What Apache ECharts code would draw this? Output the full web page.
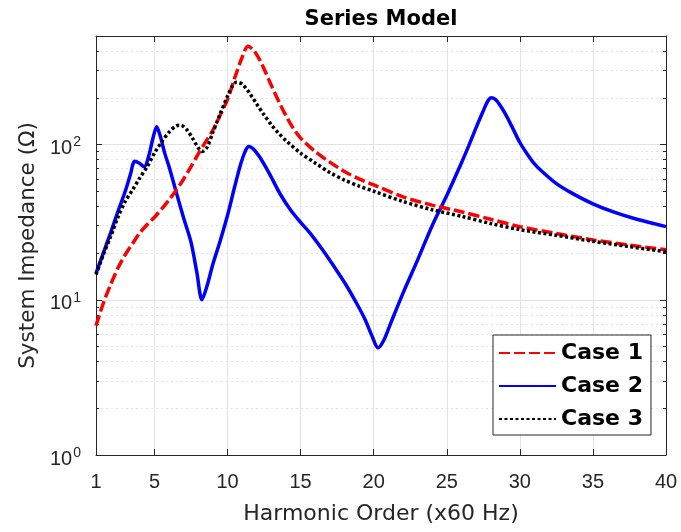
<!DOCTYPE html>
<html>
<head>
<meta charset="utf-8">
<script src="https://cdn.jsdelivr.net/npm/echarts@6/dist/echarts.min.js"></script>
<style>
html,body{margin:0;padding:0;background:#fff;}
#chart{width:681px;height:532px;}
</style>
</head>
<body>
<div id="chart"></div>
<script>
// ---- data ----
var titleText = 'Series Model';
var xName = 'Harmonic Order (x60 Hz)';
var yName = 'System Impedance (\u03A9)';
var seriesNames = ['Case 1', 'Case 2', 'Case 3'];

var xTicks = [1, 5, 10, 15, 20, 25, 30, 35, 40];
var yMajorTicks = [1, 10, 100];
var yMinorTicks = [2, 3, 4, 5, 6, 7, 8, 9, 20, 30, 40, 50, 60, 70, 80, 90, 200, 300, 400];

var case1X = [1, 1.5, 2, 2.5, 3, 3.5, 4, 4.5, 5, 5.5, 6, 6.5, 7, 7.5, 8, 8.5, 9, 9.5, 10, 10.5, 11, 11.4, 11.8, 12.2, 12.6, 13, 13.5, 14, 14.5, 15, 16, 17, 18, 19, 20, 22, 24, 26, 28, 30, 32.5, 35, 37.5, 40];
var case1Y = [6.8, 9.5, 12.5, 16, 19.5, 23, 27, 30.5, 34, 38.5, 44, 51, 60, 72, 87, 104, 124, 155, 195, 270, 365, 430, 403, 351, 292, 240, 190, 153, 127, 110, 90, 77, 67, 60, 55, 46, 40.7, 36.9, 33, 29.6, 26.7, 24.3, 22.5, 21];

var case2X = [1, 1.5, 2, 2.5, 3, 3.35, 3.65, 3.95, 4.3, 4.6, 4.9, 5.15, 5.4, 5.7, 6, 6.5, 7, 7.5, 7.9, 8.25, 8.6, 9, 9.5, 10, 10.5, 10.9, 11.2, 11.45, 11.75, 12.2, 12.9, 13.6, 14.3, 15, 15.7, 16.5, 17.3, 18.1, 18.8, 19.4, 19.9, 20.3, 20.7, 21.2, 22, 23, 24, 25, 26, 26.5, 27, 27.5, 27.8, 28.05, 28.3, 28.6, 29, 29.5, 30, 30.5, 31, 31.6, 32.5, 33.5, 35, 36.5, 38, 40];
var case2Y = [14.8, 20, 27, 37, 50, 64, 78, 76, 72, 84, 110, 130, 113, 88, 72, 49, 33.5, 23.5, 15, 10, 12.3, 17, 24, 35, 54, 75, 90, 97, 94, 83, 64, 48, 38, 31.5, 26.5, 21, 16.3, 12.5, 9.6, 7.5, 5.8, 4.9, 5.5, 7.2, 11, 18, 30, 47, 76, 98, 128, 165, 190, 200, 196, 182, 158, 128, 103, 87, 75, 66, 56, 49, 41.5, 36.5, 33, 29.6];

var case3X = [1, 1.5, 2, 2.5, 3, 3.5, 4, 4.5, 5, 5.5, 6, 6.5, 6.8, 7.2, 7.6, 8, 8.25, 8.6, 9, 9.5, 10, 10.3, 10.6, 11, 11.5, 12, 12.5, 13, 13.5, 14, 15, 16, 17, 18, 19, 20, 22, 24, 26, 28, 30, 32.5, 35, 37.5, 40];
var case3Y = [14.5, 19.5, 25.5, 34, 43, 51, 61, 72, 88, 104, 120, 132, 133, 125, 110, 95, 90, 96, 120, 158, 205, 235, 252, 245, 215, 182, 155, 134, 118, 106, 88, 76, 66, 59, 54, 50, 43, 38, 34.5, 31, 28.3, 26, 23.8, 22, 20.4];

function pairs(xs, ys) {
  var out = [];
  for (var i = 0; i < xs.length; i++) out.push([xs[i], ys[i]]);
  return out;
}

var axisColor = '#262626';
var font = 'Liberation Sans, Arial, sans-serif';
var wideFont = 'DejaVu Sans, sans-serif';

var chart = echarts.init(document.getElementById('chart'), null, {renderer: 'canvas'});

function logAxis(pos, ticks, len, showLine, showLabel, splitStyle) {
  return {
    type: 'log', logBase: 10, min: 1, max: 500, position: pos,
    axisLine: {show: showLine, onZero: false, lineStyle: {color: axisColor, width: 1}},
    axisTick: {show: true, inside: true, length: len, customValues: ticks, lineStyle: {color: axisColor, width: 1}},
    axisLabel: showLabel ? {
      show: true, inside: false, customValues: ticks, margin: 15,
      formatter: function (v) { return '{b|10}{s|' + Math.round(Math.log10(v)) + '}'; },
      rich: {
        b: {fontSize: 20, fontFamily: font, color: axisColor, lineHeight: 20, padding: [8, 0, 0, 0]},
        s: {fontSize: 14, fontFamily: font, color: axisColor, lineHeight: 14, verticalAlign: 'top', padding: [1, 0, 0, 1]}
      }
    } : {show: false},
    splitLine: splitStyle ? {show: true, lineStyle: splitStyle} : {show: false},
    minorTick: {show: false}
  };
}

var option = {
  backgroundColor: '#ffffff',
  animation: false,
  graphic: [{
    type: 'text', x: 381, y: 9,
    style: {text: titleText, font: 'bold 21px DejaVu Sans, sans-serif', fill: '#000', textAlign: 'center', textVerticalAlign: 'top'}
  }],
  grid: {left: 96, right: 15, top: 36, bottom: 77, containLabel: false},
  legend: {
    orient: 'vertical', left: 493, top: 335,
    backgroundColor: '#ffffff', borderColor: axisColor, borderWidth: 1, borderRadius: 0,
    padding: [7, 8, 5, 5], itemGap: 11, itemWidth: 57, itemHeight: 14,
    itemStyle: {opacity: 0},
    textStyle: {fontSize: 22, fontWeight: 'bold', fontFamily: wideFont, color: '#000'},
    data: seriesNames
  },
  xAxis: [{
    type: 'value', min: 1, max: 40, position: 'bottom',
    name: xName, nameLocation: 'middle', nameGap: 48,
    nameTextStyle: {fontSize: 22, fontFamily: wideFont, color: axisColor},
    axisLine: {show: true, onZero: false, lineStyle: {color: axisColor, width: 1}},
    axisTick: {show: true, inside: true, length: 6, customValues: xTicks, lineStyle: {color: axisColor}},
    axisLabel: {show: true, inside: false, customValues: xTicks, margin: 17, fontSize: 20, fontFamily: font, color: axisColor},
    splitLine: {show: true, lineStyle: {color: '#e3e3e3', width: 1}}
  }, {
    type: 'value', min: 1, max: 40, position: 'top',
    axisLine: {show: true, onZero: false, lineStyle: {color: axisColor, width: 1}},
    axisTick: {show: true, inside: true, length: 6, customValues: xTicks, lineStyle: {color: axisColor}},
    axisLabel: {show: false},
    splitLine: {show: false}
  }],
  yAxis: [
    (function () {
      var a = logAxis('left', yMajorTicks, 6, true, true, {color: '#e3e3e3', width: 1});
      a.name = yName; a.nameLocation = 'middle'; a.nameGap = 54; a.nameRotate = 90;
      a.nameTextStyle = {fontSize: 21.5, fontFamily: wideFont, color: axisColor};
      return a;
    })(),
    logAxis('left', yMinorTicks, 3, false, false, {color: '#e3e3e3', width: 1, type: [2, 3]}),
    logAxis('right', yMajorTicks, 6, true, false, null),
    logAxis('right', yMinorTicks, 3, false, false, null)
  ],
  series: [{
    name: seriesNames[0], type: 'line', xAxisIndex: 0, yAxisIndex: 0,
    data: pairs(case1X, case1Y), showSymbol: false, symbol: 'none', smooth: 0.3, z: 3,
    lineStyle: {color: '#ff0000', width: 3.5, type: [11, 4]}, itemStyle: {color: '#ff0000'}
  }, {
    name: seriesNames[1], type: 'line', xAxisIndex: 0, yAxisIndex: 0,
    data: pairs(case2X, case2Y), showSymbol: false, symbol: 'none', smooth: 0.3, z: 2,
    lineStyle: {color: '#0000ff', width: 3.5, type: 'solid'}, itemStyle: {color: '#0000ff'}
  }, {
    name: seriesNames[2], type: 'line', xAxisIndex: 0, yAxisIndex: 0,
    data: pairs(case3X, case3Y), showSymbol: false, symbol: 'none', smooth: 0.3, z: 4,
    lineStyle: {color: '#000000', width: 3.5, type: [3, 2.5]}, itemStyle: {color: '#000000'}
  }]
};
chart.setOption(option);
</script>
</body>
</html>
